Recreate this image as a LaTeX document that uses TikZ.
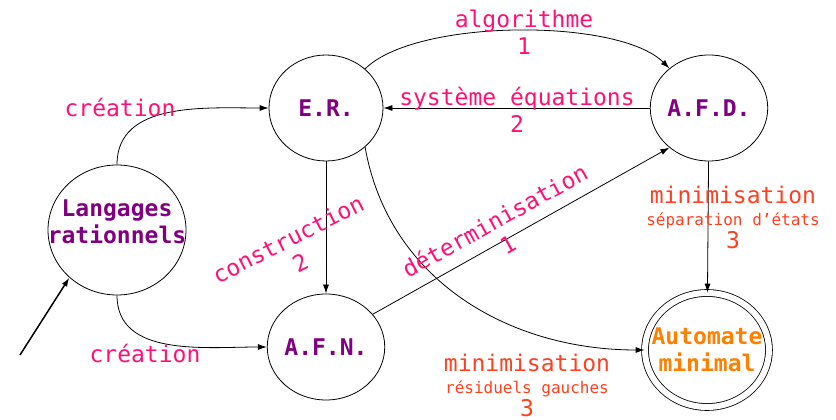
\documentclass[tikz,border=0pt]{standalone}
\usepackage{fontspec}
\setmonofont{DejaVu Sans Mono}
\usepackage{tikz}
\usetikzlibrary{shapes.geometric, arrows, arrows.meta}

\definecolor{etatviolet}{RGB}{128,0,128}
\definecolor{etatorange}{RGB}{255,128,0}
\definecolor{rose}{RGB}{255,16,120}
\definecolor{rouge}{RGB}{255,64,32}

\begin{document}
\begin{tikzpicture}[x=1pt, y=1pt, >={Latex[length=9pt,width=6pt]}, line width=0.8pt,
    etat/.style={ellipse, draw, inner sep=0pt, minimum width=114pt, minimum height=106pt,
        align=center, text=etatviolet, font=\ttfamily\bfseries\fontsize{23}{27}\selectfont},
    trans/.style={align=center, text=rose, font=\ttfamily\fontsize{23}{27}\selectfont},
    mini/.style={align=center, text=rouge, font=\ttfamily\fontsize{23}{22.5}\selectfont}]
    \useasboundingbox (0,0) rectangle (836,420);

    % States
    \node[etat, minimum width=138pt, minimum height=130pt, text depth=16pt] (lang) at (117,190)
        {\makebox[0pt]{Langages}\\\makebox[0pt]{rationnels}};
    \node[etat] (er) at (326,312) {E.R.};
    \node[etat] (afd) at (709,312) {A.F.D.};
    \node[etat] (afn) at (326,73) {A.F.N.};
    \node[etat, double, double distance=6pt, minimum width=124pt, minimum height=114pt, text=etatorange] (min) at (707,70)
        {\makebox[0pt]{Automate}\\\makebox[0pt]{minimal}};

    % Initial arrow
    \coordinate (init) at (20,65);
    \draw[->, line width=1.5pt] (init) -- (lang.225);

    % Transitions
    \draw[->] (lang.north) to[out=90, in=180] (er.west);
    \draw[->] (lang.south) to[out=-90, in=180] (afn.west);
    \draw[->] (er.45) to[out=45, in=135, looseness=0.6] (afd.135);
    \draw[->] (afd) -- (er);
    \draw[->] (er) -- (afn);
    \draw[->] (afn.35) -- (afd.225);
    \draw[->] (er.-45) to[out=-80, in=180] (min.west);
    \draw[->] (afd) -- (min);

    % Labels
    \node[trans] (l1) at (120,313) {création};
    \node[trans] (l2) at (145,67) {création};
    \node[trans] (l3) at (524,388) {algorithme\\1};
    \node[trans] (l4) at (517,310) {système équations\\2};
    \node[trans, rotate=27] (l5) at (294,169) {construction\\2};
    \node[trans, rotate=29] (l6) at (501,188) {déterminisation\\1};
    \node[mini] (l7) at (527,35) {minimisation\\{\fontsize{16}{22.5}\selectfont résiduels gauches}\\3};
    \node[mini] (l8) at (733,203) {minimisation\\{\fontsize{16}{22.5}\selectfont séparation d’états}\\3};
\end{tikzpicture}
\end{document}
